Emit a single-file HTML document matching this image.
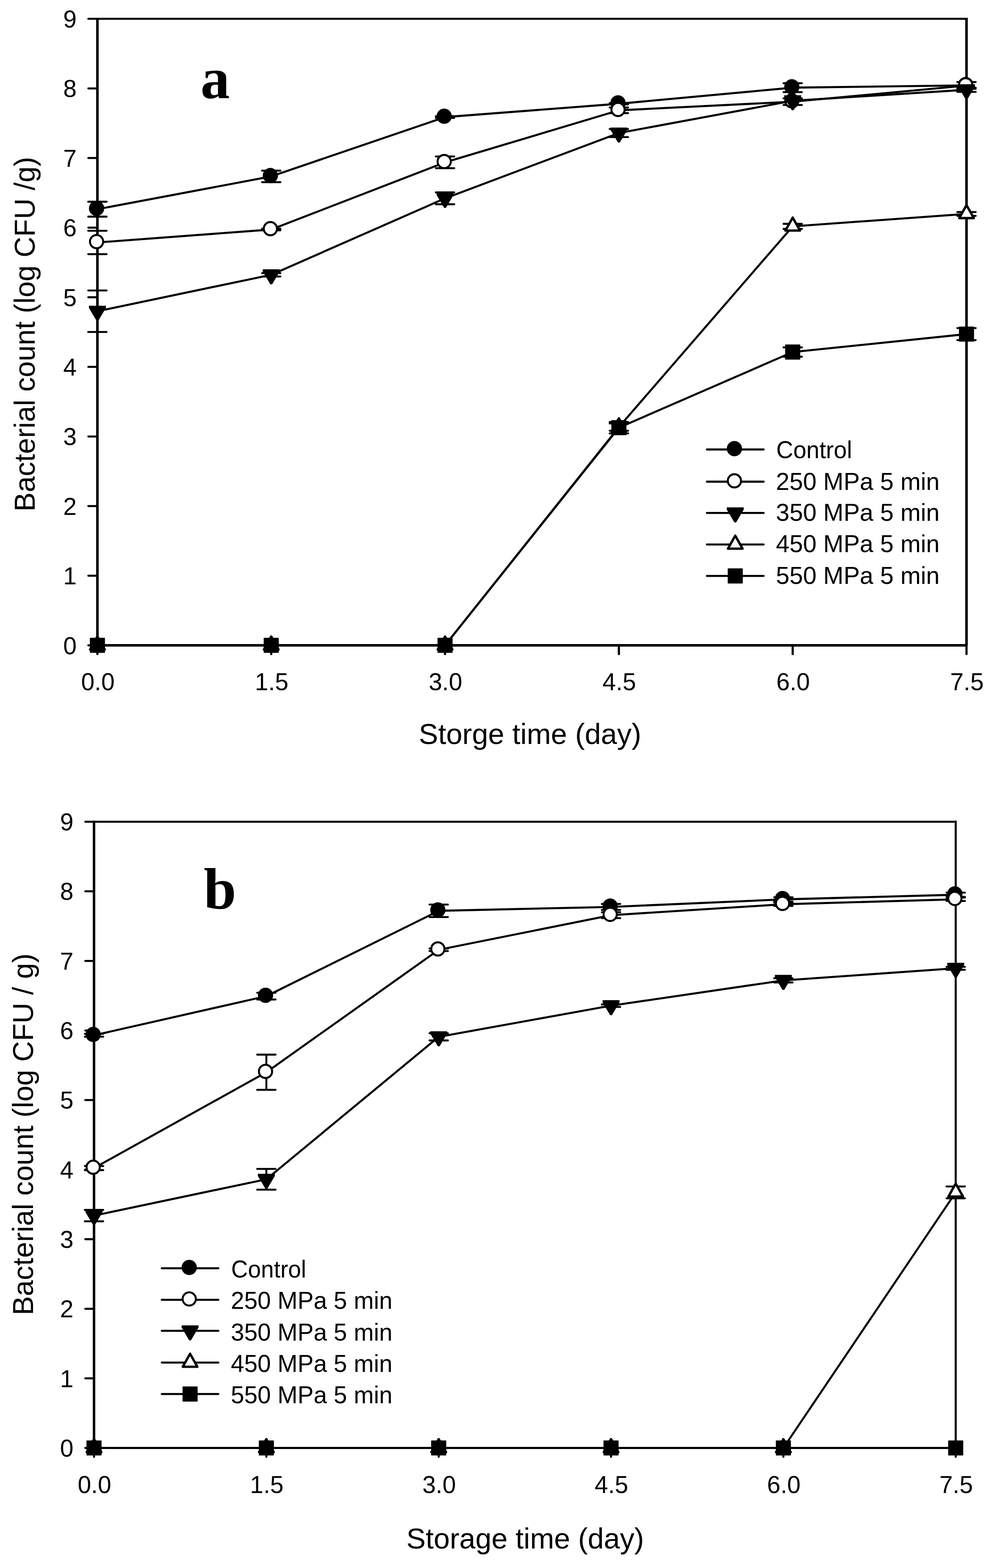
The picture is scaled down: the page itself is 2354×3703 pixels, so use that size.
<!DOCTYPE html>
<html><head><meta charset="utf-8"><title>Bacterial count chart</title>
<style>html,body{margin:0;padding:0;background:#fff;}svg{display:block;}</style>
</head><body>
<svg width="2354" height="3703" viewBox="0 0 2354 3703">
<rect width="100%" height="100%" fill="#fff"/>
<g stroke="#000" stroke-linecap="butt" fill="none">
<path d="M230 42.1V1527" stroke-width="6"/>
<path d="M230 44.4H2285" stroke-width="4.6"/>
<path d="M2282 42.1V1524" stroke-width="6"/>
<path d="M230 1524H2282" stroke-width="5.9"/>
<path d="M208.6 1524H230M208.6 1359.6H230M208.6 1195.2H230M208.6 1030.8H230M208.6 866.4H230M208.6 702H230M208.6 537.6H230M208.6 373.2H230M208.6 208.8H230M208.6 44.4H230" stroke-width="4.8" stroke-linecap="round"/>
<path d="M230 1524V1544.6M640.4 1524V1544.6M1050.8 1524V1544.6M1461.2 1524V1544.6M1871.6 1524V1544.6M2282 1524V1544.6" stroke-width="5.2" stroke-linecap="round"/>
</g>
<g font-family="'Liberation Sans', Arial, sans-serif" font-size="57" fill="#000">
<text x="181" y="1544.5" text-anchor="end">0</text>
<text x="181" y="1380.1" text-anchor="end">1</text>
<text x="181" y="1215.7" text-anchor="end">2</text>
<text x="181" y="1051.3" text-anchor="end">3</text>
<text x="181" y="886.9" text-anchor="end">4</text>
<text x="181" y="722.5" text-anchor="end">5</text>
<text x="181" y="558.1" text-anchor="end">6</text>
<text x="181" y="393.7" text-anchor="end">7</text>
<text x="181" y="229.3" text-anchor="end">8</text>
<text x="181" y="64.9" text-anchor="end">9</text>
<text x="231" y="1630" text-anchor="middle">0.0</text>
<text x="641.4" y="1630" text-anchor="middle">1.5</text>
<text x="1051.8" y="1630" text-anchor="middle">3.0</text>
<text x="1462.2" y="1630" text-anchor="middle">4.5</text>
<text x="1872.6" y="1630" text-anchor="middle">6.0</text>
<text x="2283" y="1630" text-anchor="middle">7.5</text>
</g>
<text x="1251.4" y="1756.5" font-family="'Liberation Sans', Arial, sans-serif" font-size="68" text-anchor="middle" textLength="525.2" lengthAdjust="spacingAndGlyphs">Storge time (day)</text>
<text transform="translate(82 789.1) rotate(-90)" x="0" y="0" font-family="'Liberation Sans', Arial, sans-serif" font-size="68" text-anchor="middle" textLength="837.6" lengthAdjust="spacingAndGlyphs">Bacterial count (log CFU /g)</text>
<text x="473.5" y="231.5" font-family="'Liberation Serif', 'Times New Roman', serif" font-weight="bold" font-size="138">a</text>
<polyline points="230,494 640.4,416.6 1050.8,276.5 1461.2,245 1871.6,207 2282,201.7" fill="none" stroke="#000" stroke-width="4.8" stroke-linejoin="round"/>
<path d="M230 476.4V511.6M208.3 476.4H251.7M208.3 511.6H251.7M640.4 403V430.2M618.7 403H662.1M618.7 430.2H662.1M1050.8 274.5V278.5M1029.1 274.5H1072.5M1029.1 278.5H1072.5M1461.2 243.5V246.5M1439.5 243.5H1482.9M1439.5 246.5H1482.9M1871.6 196.5V217.5M1849.9 196.5H1893.3M1849.9 217.5H1893.3M2282 193.7V209.7M2260.3 193.7H2303.7M2260.3 209.7H2303.7" fill="none" stroke="#000" stroke-width="4.6" stroke-linecap="round"/>
<circle cx="228" cy="492" r="18" fill="#000"/>
<circle cx="638.4" cy="414.6" r="18" fill="#000"/>
<circle cx="1048.8" cy="274.5" r="18" fill="#000"/>
<circle cx="1459.2" cy="243" r="18" fill="#000"/>
<circle cx="1869.6" cy="205" r="18" fill="#000"/>
<circle cx="2280" cy="199.7" r="18" fill="#000"/>
<polyline points="230,572.6 640.4,542 1050.8,383.4 1461.2,260.5 1871.6,240.2 2282,202.2" fill="none" stroke="#000" stroke-width="4.8" stroke-linejoin="round"/>
<path d="M230 545V600.2M208.3 545H251.7M208.3 600.2H251.7M640.4 540V544M618.7 540H662.1M618.7 544H662.1M1050.8 369.5V397.3M1029.1 369.5H1072.5M1029.1 397.3H1072.5M1461.2 253.9V267.1M1439.5 253.9H1482.9M1439.5 267.1H1482.9M1871.6 232.3V248M1849.9 232.3H1893.3M1849.9 248H1893.3" fill="none" stroke="#000" stroke-width="4.6" stroke-linecap="round"/>
<circle cx="228" cy="570.6" r="15.6" fill="#fff" stroke="#000" stroke-width="4.7"/>
<circle cx="638.4" cy="540" r="15.6" fill="#fff" stroke="#000" stroke-width="4.7"/>
<circle cx="1048.8" cy="381.4" r="15.6" fill="#fff" stroke="#000" stroke-width="4.7"/>
<circle cx="1459.2" cy="258.5" r="15.6" fill="#fff" stroke="#000" stroke-width="4.7"/>
<circle cx="1869.6" cy="238.2" r="15.6" fill="#fff" stroke="#000" stroke-width="4.7"/>
<circle cx="2280" cy="200.2" r="15.6" fill="#fff" stroke="#000" stroke-width="4.7"/>
<polyline points="230,735 640.4,649 1050.8,468.4 1461.2,314.2 1871.6,238 2282,212" fill="none" stroke="#000" stroke-width="4.8" stroke-linejoin="round"/>
<path d="M230 686V784M208.3 686H251.7M208.3 784H251.7M640.4 645V653M618.7 645H662.1M618.7 653H662.1M1050.8 454.4V482.4M1029.1 454.4H1072.5M1029.1 482.4H1072.5M1461.2 304.7V323.7M1439.5 304.7H1482.9M1439.5 323.7H1482.9M2282 207V217M2260.3 207H2303.7M2260.3 217H2303.7" fill="none" stroke="#000" stroke-width="4.6" stroke-linecap="round"/>
<polygon points="210,722 250,722 250,727.2 232.4,757 230,757.8 227.6,757 210,727.2" fill="#000"/>
<polygon points="620.4,636 660.4,636 660.4,641.2 642.8,671 640.4,671.8 638,671 620.4,641.2" fill="#000"/>
<polygon points="1030.8,455.4 1070.8,455.4 1070.8,460.6 1053.2,490.4 1050.8,491.2 1048.4,490.4 1030.8,460.6" fill="#000"/>
<polygon points="1441.2,301.2 1481.2,301.2 1481.2,306.4 1463.6,336.2 1461.2,337 1458.8,336.2 1441.2,306.4" fill="#000"/>
<polygon points="1851.6,225 1891.6,225 1891.6,230.2 1874,260 1871.6,260.8 1869.2,260 1851.6,230.2" fill="#000"/>
<polygon points="2262,199 2302,199 2302,204.2 2284.4,234 2282,234.8 2279.6,234 2262,204.2" fill="#000"/>
<polyline points="230,1524 640.4,1524 1050.8,1524 1461.2,1008.6 1871.6,534.6 2282,505.2" fill="none" stroke="#000" stroke-width="4.8" stroke-linejoin="round"/>
<path d="M1461.2 999.9V1017.3M1439.5 999.9H1482.9M1439.5 1017.3H1482.9M1871.6 528.6V540.6M1849.9 528.6H1893.3M1849.9 540.6H1893.3M2282 500.7V509.7M2260.3 500.7H2303.7M2260.3 509.7H2303.7" fill="none" stroke="#000" stroke-width="4.6" stroke-linecap="round"/>
<polygon points="230,1503.2 212.8,1533.9 247.2,1533.9" fill="#fff" stroke="#000" stroke-width="5.6" stroke-linejoin="round"/>
<polygon points="640.4,1503.2 623.2,1533.9 657.6,1533.9" fill="#fff" stroke="#000" stroke-width="5.6" stroke-linejoin="round"/>
<polygon points="1050.8,1503.2 1033.6,1533.9 1068,1533.9" fill="#fff" stroke="#000" stroke-width="5.6" stroke-linejoin="round"/>
<polygon points="1461.2,987.8 1444,1018.5 1478.4,1018.5" fill="#fff" stroke="#000" stroke-width="5.6" stroke-linejoin="round"/>
<polygon points="1871.6,513.8 1854.4,544.5 1888.8,544.5" fill="#fff" stroke="#000" stroke-width="5.6" stroke-linejoin="round"/>
<polygon points="2282,484.4 2264.8,515.1 2299.2,515.1" fill="#fff" stroke="#000" stroke-width="5.6" stroke-linejoin="round"/>
<polyline points="230,1524 640.4,1524 1050.8,1524 1461.2,1010 1871.6,831.4 2282,789" fill="none" stroke="#000" stroke-width="4.8" stroke-linejoin="round"/>
<path d="M1461.2 996.5V1023.5M1439.5 996.5H1482.9M1439.5 1023.5H1482.9M1871.6 820.4V842.4M1849.9 820.4H1893.3M1849.9 842.4H1893.3M2282 774.8V803.2M2260.3 774.8H2303.7M2260.3 803.2H2303.7" fill="none" stroke="#000" stroke-width="4.6" stroke-linecap="round"/>
<rect x="213" y="1507" width="34" height="34" fill="#000" stroke="#000" stroke-width="1.6" stroke-linejoin="round"/>
<rect x="623.4" y="1507" width="34" height="34" fill="#000" stroke="#000" stroke-width="1.6" stroke-linejoin="round"/>
<rect x="1033.8" y="1507" width="34" height="34" fill="#000" stroke="#000" stroke-width="1.6" stroke-linejoin="round"/>
<rect x="1444.2" y="993" width="34" height="34" fill="#000" stroke="#000" stroke-width="1.6" stroke-linejoin="round"/>
<rect x="1854.6" y="814.4" width="34" height="34" fill="#000" stroke="#000" stroke-width="1.6" stroke-linejoin="round"/>
<rect x="2265" y="772" width="34" height="34" fill="#000" stroke="#000" stroke-width="1.6" stroke-linejoin="round"/>
<path d="M1669 1061.5H1803" stroke="#000" stroke-width="4.8" stroke-linecap="round"/>
<circle cx="1734" cy="1059.5" r="18" fill="#000"/>
<text x="1832.8" y="1081.9" font-family="'Liberation Sans', Arial, sans-serif" font-size="57" textLength="179" lengthAdjust="spacingAndGlyphs">Control</text>
<path d="M1669 1137.5H1803" stroke="#000" stroke-width="4.8" stroke-linecap="round"/>
<circle cx="1734" cy="1135.5" r="15.6" fill="#fff" stroke="#000" stroke-width="4.7"/>
<text x="1832" y="1157.1" font-family="'Liberation Sans', Arial, sans-serif" font-size="57" textLength="386.5" lengthAdjust="spacingAndGlyphs">250 MPa 5 min</text>
<path d="M1669 1211.3H1803" stroke="#000" stroke-width="4.8" stroke-linecap="round"/>
<polygon points="1716,1198.3 1756,1198.3 1756,1203.5 1738.4,1233.3 1736,1234.1 1733.6,1233.3 1716,1203.5" fill="#000"/>
<text x="1832" y="1229.7" font-family="'Liberation Sans', Arial, sans-serif" font-size="57" textLength="386.5" lengthAdjust="spacingAndGlyphs">350 MPa 5 min</text>
<path d="M1669 1285.8H1803" stroke="#000" stroke-width="4.8" stroke-linecap="round"/>
<polygon points="1736,1265 1718.8,1295.7 1753.2,1295.7" fill="#fff" stroke="#000" stroke-width="5.6" stroke-linejoin="round"/>
<text x="1832" y="1304.4" font-family="'Liberation Sans', Arial, sans-serif" font-size="57" textLength="386.5" lengthAdjust="spacingAndGlyphs">450 MPa 5 min</text>
<path d="M1669 1360.1H1803" stroke="#000" stroke-width="4.8" stroke-linecap="round"/>
<rect x="1719" y="1343.1" width="34" height="34" fill="#000" stroke="#000" stroke-width="1.6" stroke-linejoin="round"/>
<text x="1832" y="1378.5" font-family="'Liberation Sans', Arial, sans-serif" font-size="57" textLength="386.5" lengthAdjust="spacingAndGlyphs">550 MPa 5 min</text>
<g stroke="#000" stroke-linecap="butt" fill="none">
<path d="M222 1938.2V3421.9" stroke-width="5.9"/>
<path d="M222 1940.6H2258.9" stroke-width="4.9"/>
<path d="M2256.5 1938.2V3419.5" stroke-width="4.8"/>
<path d="M222 3419.5H2256.5" stroke-width="4.8"/>
<path d="M201.4 3419.5H222M201.4 3255.2H222M201.4 3090.9H222M201.4 2926.5H222M201.4 2762.2H222M201.4 2597.9H222M201.4 2433.6H222M201.4 2269.3H222M201.4 2104.9H222M201.4 1940.6H222" stroke-width="4.8" stroke-linecap="round"/>
<path d="M222 3419.5V3440.6M628.9 3419.5V3440.6M1035.8 3419.5V3440.6M1442.7 3419.5V3440.6M1849.6 3419.5V3440.6M2256.5 3419.5V3440.6" stroke-width="4.8" stroke-linecap="round"/>
</g>
<g font-family="'Liberation Sans', Arial, sans-serif" font-size="57" fill="#000">
<text x="173.5" y="3440" text-anchor="end">0</text>
<text x="173.5" y="3275.7" text-anchor="end">1</text>
<text x="173.5" y="3111.4" text-anchor="end">2</text>
<text x="173.5" y="2947" text-anchor="end">3</text>
<text x="173.5" y="2782.7" text-anchor="end">4</text>
<text x="173.5" y="2618.4" text-anchor="end">5</text>
<text x="173.5" y="2454.1" text-anchor="end">6</text>
<text x="173.5" y="2289.8" text-anchor="end">7</text>
<text x="173.5" y="2125.4" text-anchor="end">8</text>
<text x="173.5" y="1961.1" text-anchor="end">9</text>
<text x="223" y="3525.5" text-anchor="middle">0.0</text>
<text x="629.9" y="3525.5" text-anchor="middle">1.5</text>
<text x="1036.8" y="3525.5" text-anchor="middle">3.0</text>
<text x="1443.7" y="3525.5" text-anchor="middle">4.5</text>
<text x="1850.6" y="3525.5" text-anchor="middle">6.0</text>
<text x="2257.5" y="3525.5" text-anchor="middle">7.5</text>
</g>
<text x="1240" y="3656.5" font-family="'Liberation Sans', Arial, sans-serif" font-size="68" text-anchor="middle" textLength="560.9" lengthAdjust="spacingAndGlyphs">Storage time (day)</text>
<text transform="translate(78 2678.8) rotate(-90)" x="0" y="0" font-family="'Liberation Sans', Arial, sans-serif" font-size="68" text-anchor="middle" textLength="854.6" lengthAdjust="spacingAndGlyphs">Bacterial count (log CFU / g)</text>
<text x="481" y="2146" font-family="'Liberation Serif', 'Times New Roman', serif" font-weight="bold" font-size="138">b</text>
<polyline points="222,2444.9 628.9,2352.5 1035.8,2151 1442.7,2141.8 1849.6,2124 2256.5,2113" fill="none" stroke="#000" stroke-width="4.8" stroke-linejoin="round"/>
<path d="M222 2441.5V2448.3M200.3 2441.5H243.7M200.3 2448.3H243.7M628.9 2344.5V2360.5M607.2 2344.5H650.6M607.2 2360.5H650.6M1035.8 2136.3V2165.7M1014.1 2136.3H1057.5M1014.1 2165.7H1057.5M1442.7 2134.8V2148.8M1421 2134.8H1464.4M1421 2148.8H1464.4M1849.6 2119V2129M1827.9 2119H1871.3M1827.9 2129H1871.3M2256.5 2108V2118M2234.8 2108H2278.2M2234.8 2118H2278.2" fill="none" stroke="#000" stroke-width="4.6" stroke-linecap="round"/>
<circle cx="220" cy="2442.9" r="18" fill="#000"/>
<circle cx="626.9" cy="2350.5" r="18" fill="#000"/>
<circle cx="1033.8" cy="2149" r="18" fill="#000"/>
<circle cx="1440.7" cy="2139.8" r="18" fill="#000"/>
<circle cx="1847.6" cy="2122" r="18" fill="#000"/>
<circle cx="2254.5" cy="2111" r="18" fill="#000"/>
<polyline points="222,2758.5 628.9,2532.2 1035.8,2243 1442.7,2161.3 1849.6,2135.5 2256.5,2123.8" fill="none" stroke="#000" stroke-width="4.8" stroke-linejoin="round"/>
<path d="M222 2753.6V2763.4M200.3 2753.6H243.7M200.3 2763.4H243.7M628.9 2490.6V2573.8M607.2 2490.6H650.6M607.2 2573.8H650.6M1035.8 2240V2246M1014.1 2240H1057.5M1014.1 2246H1057.5M1442.7 2154.3V2168.3M1421 2154.3H1464.4M1421 2168.3H1464.4M1849.6 2131.5V2139.5M1827.9 2131.5H1871.3M1827.9 2139.5H1871.3M2256.5 2119.8V2127.8M2234.8 2119.8H2278.2M2234.8 2127.8H2278.2" fill="none" stroke="#000" stroke-width="4.6" stroke-linecap="round"/>
<circle cx="220" cy="2756.5" r="15.6" fill="#fff" stroke="#000" stroke-width="4.7"/>
<circle cx="626.9" cy="2530.2" r="15.6" fill="#fff" stroke="#000" stroke-width="4.7"/>
<circle cx="1033.8" cy="2241" r="15.6" fill="#fff" stroke="#000" stroke-width="4.7"/>
<circle cx="1440.7" cy="2159.3" r="15.6" fill="#fff" stroke="#000" stroke-width="4.7"/>
<circle cx="1847.6" cy="2133.5" r="15.6" fill="#fff" stroke="#000" stroke-width="4.7"/>
<circle cx="2254.5" cy="2121.8" r="15.6" fill="#fff" stroke="#000" stroke-width="4.7"/>
<polyline points="222,2870.8 628.9,2785 1035.8,2448.6 1442.7,2375 1849.6,2315.3 2256.5,2286.7" fill="none" stroke="#000" stroke-width="4.8" stroke-linejoin="round"/>
<path d="M222 2857.4V2884.2M200.3 2857.4H243.7M200.3 2884.2H243.7M628.9 2760.5V2809.5M607.2 2760.5H650.6M607.2 2809.5H650.6M1035.8 2440.1V2457.1M1014.1 2440.1H1057.5M1014.1 2457.1H1057.5M1442.7 2372V2378M1421 2372H1464.4M1421 2378H1464.4M1849.6 2310.3V2320.3M1827.9 2310.3H1871.3M1827.9 2320.3H1871.3M2256.5 2283.2V2290.2M2234.8 2283.2H2278.2M2234.8 2290.2H2278.2" fill="none" stroke="#000" stroke-width="4.6" stroke-linecap="round"/>
<polygon points="202,2857.8 242,2857.8 242,2863 224.4,2892.8 222,2893.6 219.6,2892.8 202,2863" fill="#000"/>
<polygon points="608.9,2772 648.9,2772 648.9,2777.2 631.3,2807 628.9,2807.8 626.5,2807 608.9,2777.2" fill="#000"/>
<polygon points="1015.8,2435.6 1055.8,2435.6 1055.8,2440.8 1038.2,2470.6 1035.8,2471.4 1033.4,2470.6 1015.8,2440.8" fill="#000"/>
<polygon points="1422.7,2362 1462.7,2362 1462.7,2367.2 1445.1,2397 1442.7,2397.8 1440.3,2397 1422.7,2367.2" fill="#000"/>
<polygon points="1829.6,2302.3 1869.6,2302.3 1869.6,2307.5 1852,2337.3 1849.6,2338.1 1847.2,2337.3 1829.6,2307.5" fill="#000"/>
<polygon points="2236.5,2273.7 2276.5,2273.7 2276.5,2278.9 2258.9,2308.7 2256.5,2309.5 2254.1,2308.7 2236.5,2278.9" fill="#000"/>
<polyline points="222,3419.5 628.9,3419.5 1035.8,3419.5 1442.7,3419.5 1849.6,3419.5 2256.5,2816" fill="none" stroke="#000" stroke-width="4.8" stroke-linejoin="round"/>
<path d="M2256.5 2802V2830M2234.8 2802H2278.2M2234.8 2830H2278.2" fill="none" stroke="#000" stroke-width="4.6" stroke-linecap="round"/>
<polygon points="222,3398.7 204.8,3429.4 239.2,3429.4" fill="#fff" stroke="#000" stroke-width="5.6" stroke-linejoin="round"/>
<polygon points="628.9,3398.7 611.7,3429.4 646.1,3429.4" fill="#fff" stroke="#000" stroke-width="5.6" stroke-linejoin="round"/>
<polygon points="1035.8,3398.7 1018.6,3429.4 1053,3429.4" fill="#fff" stroke="#000" stroke-width="5.6" stroke-linejoin="round"/>
<polygon points="1442.7,3398.7 1425.5,3429.4 1459.9,3429.4" fill="#fff" stroke="#000" stroke-width="5.6" stroke-linejoin="round"/>
<polygon points="1849.6,3398.7 1832.4,3429.4 1866.8,3429.4" fill="#fff" stroke="#000" stroke-width="5.6" stroke-linejoin="round"/>
<polygon points="2256.5,2795.2 2239.3,2825.9 2273.7,2825.9" fill="#fff" stroke="#000" stroke-width="5.6" stroke-linejoin="round"/>
<polyline points="222,3419.5 628.9,3419.5 1035.8,3419.5 1442.7,3419.5 1849.6,3419.5 2256.5,3419.5" fill="none" stroke="#000" stroke-width="4.8" stroke-linejoin="round"/>
<rect x="205" y="3402.5" width="34" height="34" fill="#000" stroke="#000" stroke-width="1.6" stroke-linejoin="round"/>
<rect x="611.9" y="3402.5" width="34" height="34" fill="#000" stroke="#000" stroke-width="1.6" stroke-linejoin="round"/>
<rect x="1018.8" y="3402.5" width="34" height="34" fill="#000" stroke="#000" stroke-width="1.6" stroke-linejoin="round"/>
<rect x="1425.7" y="3402.5" width="34" height="34" fill="#000" stroke="#000" stroke-width="1.6" stroke-linejoin="round"/>
<rect x="1832.6" y="3402.5" width="34" height="34" fill="#000" stroke="#000" stroke-width="1.6" stroke-linejoin="round"/>
<rect x="2239.5" y="3402.5" width="34" height="34" fill="#000" stroke="#000" stroke-width="1.6" stroke-linejoin="round"/>
<path d="M382 2995.2H515.5" stroke="#000" stroke-width="4.8" stroke-linecap="round"/>
<circle cx="446.8" cy="2993.2" r="18" fill="#000"/>
<text x="545.8" y="3017.3" font-family="'Liberation Sans', Arial, sans-serif" font-size="57" textLength="177.2" lengthAdjust="spacingAndGlyphs">Control</text>
<path d="M382 3069.6H515.5" stroke="#000" stroke-width="4.8" stroke-linecap="round"/>
<circle cx="446.8" cy="3067.6" r="15.6" fill="#fff" stroke="#000" stroke-width="4.7"/>
<text x="544.9" y="3091.3" font-family="'Liberation Sans', Arial, sans-serif" font-size="57" textLength="381.7" lengthAdjust="spacingAndGlyphs">250 MPa 5 min</text>
<path d="M382 3142.9H515.5" stroke="#000" stroke-width="4.8" stroke-linecap="round"/>
<polygon points="428.8,3129.9 468.8,3129.9 468.8,3135.1 451.1,3164.9 448.8,3165.7 446.4,3164.9 428.8,3135.1" fill="#000"/>
<text x="544.9" y="3165.7" font-family="'Liberation Sans', Arial, sans-serif" font-size="57" textLength="381.7" lengthAdjust="spacingAndGlyphs">350 MPa 5 min</text>
<path d="M382 3217.8H515.5" stroke="#000" stroke-width="4.8" stroke-linecap="round"/>
<polygon points="448.8,3197 431.6,3227.7 465.9,3227.7" fill="#fff" stroke="#000" stroke-width="5.6" stroke-linejoin="round"/>
<text x="544.9" y="3239.6" font-family="'Liberation Sans', Arial, sans-serif" font-size="57" textLength="381.7" lengthAdjust="spacingAndGlyphs">450 MPa 5 min</text>
<path d="M382 3292.1H515.5" stroke="#000" stroke-width="4.8" stroke-linecap="round"/>
<rect x="431.8" y="3275.1" width="34" height="34" fill="#000" stroke="#000" stroke-width="1.6" stroke-linejoin="round"/>
<text x="544.9" y="3313.7" font-family="'Liberation Sans', Arial, sans-serif" font-size="57" textLength="381.7" lengthAdjust="spacingAndGlyphs">550 MPa 5 min</text>
</svg>
</body></html>
